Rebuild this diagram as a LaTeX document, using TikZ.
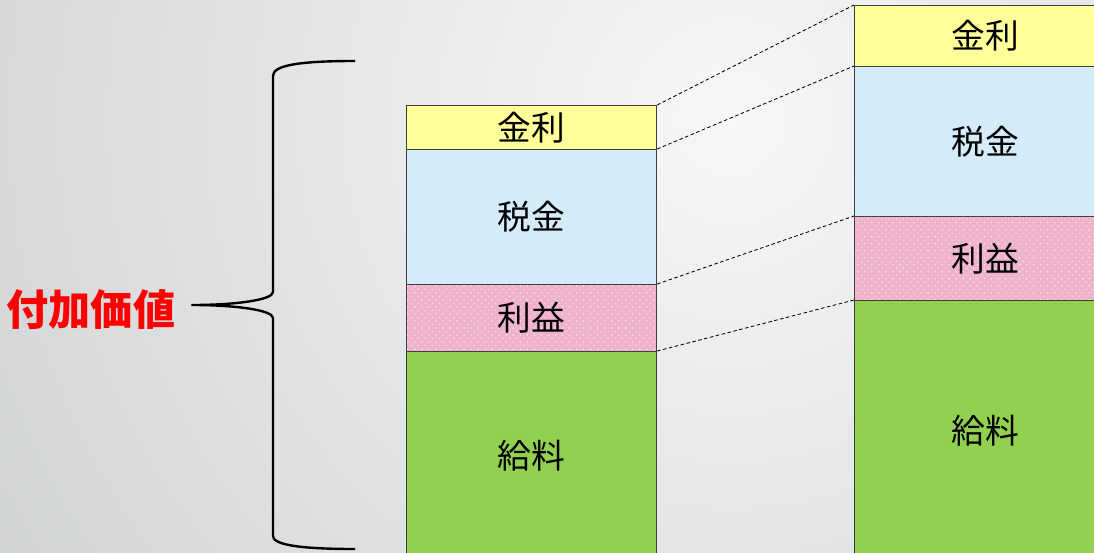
\documentclass[tikz,border=0pt]{standalone}
\usepackage{fontspec}
\usepackage{tikz}
\usetikzlibrary{patterns}

\newfontfamily\cjk{Noto Sans CJK JP}

\definecolor{kinricolor}{HTML}{FFFF99}
\definecolor{zeikincolor}{HTML}{D5EBF9}
\definecolor{riekicolor}{HTML}{EFB3CE}
\definecolor{kyuryocolor}{HTML}{92D050}
\definecolor{bordercolor}{HTML}{3F3F3F}
\definecolor{bgdark}{HTML}{B4B8BA}
\definecolor{bglight}{HTML}{F7F7F7}

% Sparse dots for the profit band.
\pgfdeclarepatternformonly{sparsedots}{\pgfqpoint{-1pt}{-1pt}}{\pgfqpoint{5pt}{5pt}}{\pgfqpoint{5pt}{5pt}}
{
    \pgfpathcircle{\pgfqpoint{0pt}{0pt}}{0.55pt}
    \pgfpathcircle{\pgfqpoint{2.5pt}{2.5pt}}{0.4pt}
    \pgfusepath{fill}
}

\tikzset{
    band/.style={draw=bordercolor, line width=0.8pt, inner sep=0, anchor=north west,
        font=\cjk\fontsize{24}{24}\selectfont},
    dotted band/.style={postaction={pattern=sparsedots, pattern color=white!75!riekicolor}},
    link/.style={dash pattern=on 2.5pt off 1.8pt, line width=0.6pt},
    braceline/.style={line width=1.7pt, line join=round}
}

\begin{document}
\begin{tikzpicture}[x=0.025cm, y=-0.025cm]
\useasboundingbox (0, 0) rectangle (1094, 553);
\clip (0, 0) rectangle (1094, 553);

% Draw background.
\shade[inner color=bglight, outer color=bgdark] (730, 120) circle (1500);

% Draw left column.
\node[band, fill=kinricolor, minimum width=6.25cm, minimum height=1.1cm]
    (lkinri) at (406, 105) {金利};
\node[band, fill=zeikincolor, minimum width=6.25cm, minimum height=3.375cm]
    (lzeikin) at (406, 149) {税金};
\node[band, dotted band, fill=riekicolor, minimum width=6.25cm, minimum height=1.675cm]
    (lrieki) at (406, 284) {利益};
\node[band, fill=kyuryocolor, minimum width=6.25cm, minimum height=5.225cm]
    (lkyuryo) at (406, 351) {給料};

% Draw right column.
\node[band, fill=kinricolor, minimum width=6.55cm, minimum height=1.525cm]
    (rkinri) at (854, 5) {金利};
\node[band, fill=zeikincolor, minimum width=6.55cm, minimum height=3.75cm]
    (rzeikin) at (854, 66) {税金};
\node[band, dotted band, fill=riekicolor, minimum width=6.55cm, minimum height=2.1cm]
    (rrieki) at (854, 216) {利益};
\node[band, fill=kyuryocolor, minimum width=6.55cm, minimum height=6.5cm]
    (rkyuryo) at (854, 300) {給料};

% Draw links between columns.
\foreach \part in {kinri, zeikin, rieki, kyuryo}
    \draw[link] (l\part.north east) -- (r\part.north west);

% Draw brace.
\draw[braceline] (355, 61) .. controls (295, 61) and (273, 66) .. (273, 76)
    -- (273, 292) .. controls (273, 300) and (235, 305) .. (192, 305)
    .. controls (235, 305) and (273, 310) .. (273, 318)
    -- (273, 536) .. controls (273, 544) and (295, 549) .. (355, 549);

\node[text=red, font=\cjk\bfseries\fontsize{30}{30}\selectfont]
    (fukakachi) at (91, 310) {付加価値};

\end{tikzpicture}
\end{document}
